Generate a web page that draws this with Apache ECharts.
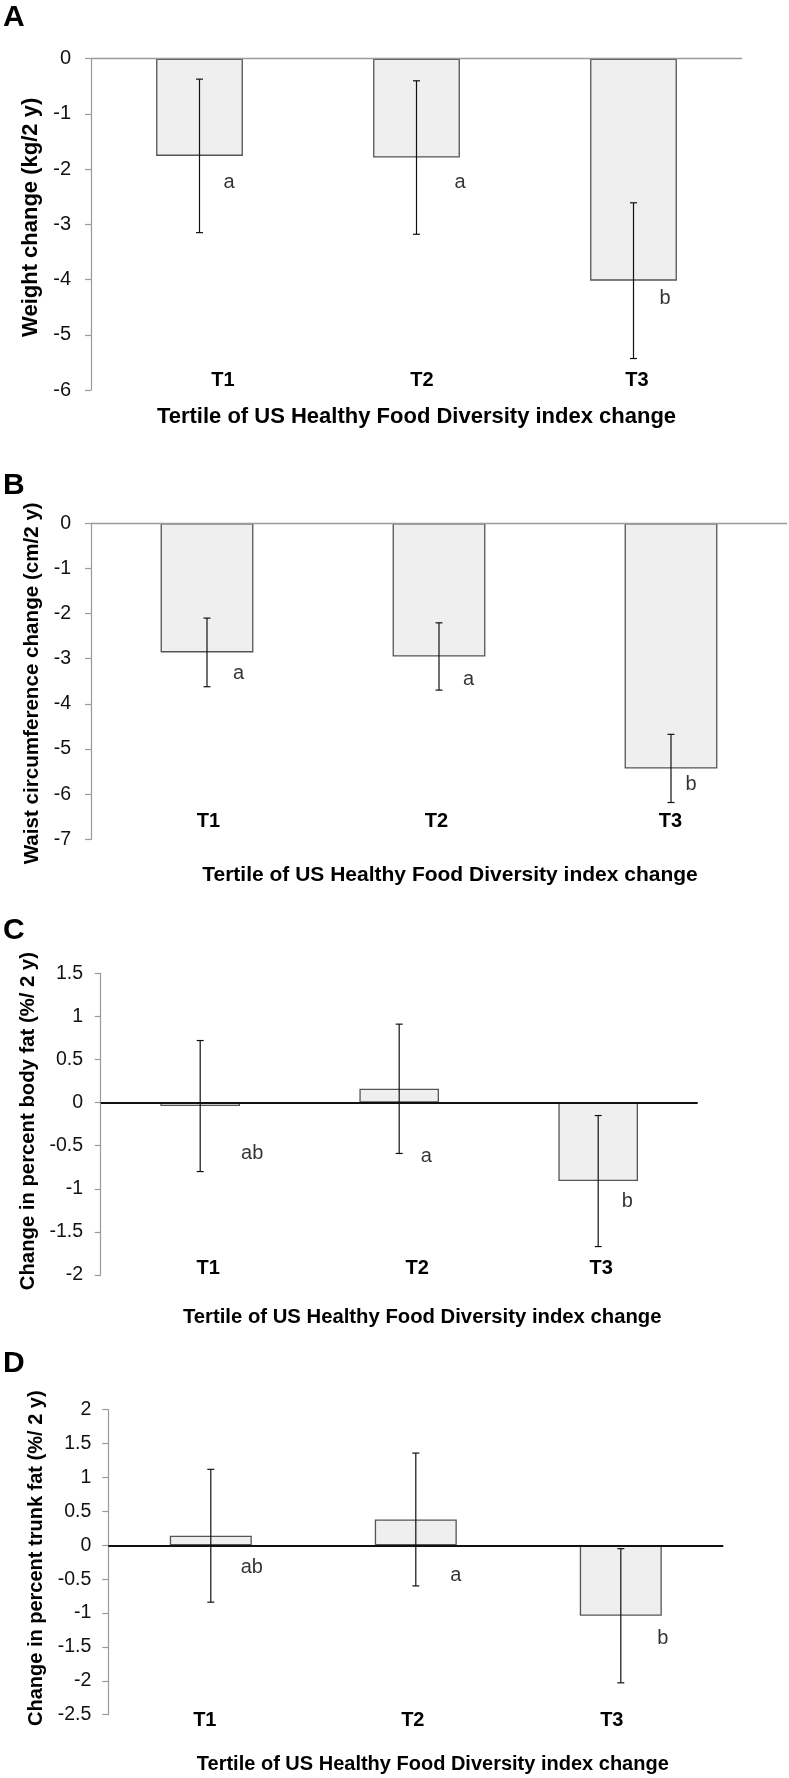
<!DOCTYPE html>
<html><head><meta charset="utf-8">
<script src="https://cdn.jsdelivr.net/npm/echarts@6/dist/echarts.min.js"></script>
<style>html,body{margin:0;padding:0;background:#fff}#c{width:789px;height:1778px}</style>
</head><body><div id="c"></div>
<script>
// ---------- data ----------
const categories = ['T1', 'T2', 'T3'];
const xTitle = 'Tertile of US Healthy Food Diversity index change';

// A: weight change (kg/2 y)
const weightMean = [-1.76, -1.79, -4.02];
const weightSE = [1.39, 1.39, 1.41];
const weightLetters = ['a', 'a', 'b'];
const weightLetterAt = [-2.25, -2.25, -4.34];
const weightAxis = [-6, 0, 1];

// B: waist circumference change (cm/2 y)
const waistMean = [-2.86, -2.95, -5.43];
const waistSE = [0.76, 0.745, 0.755];
const waistLetters = ['a', 'a', 'b'];
const waistLetterAt = [-3.32, -3.47, -5.79];
const waistAxis = [-7, 0, 1];

// C: change in percent body fat (%/ 2 y)
const bodyFatMean = [-0.04, 0.16, -0.91];
const bodyFatSE = [0.76, 0.75, 0.76];
const bodyFatLetters = ['ab', 'a', 'b'];
const bodyFatLetterAt = [-0.585, -0.63, -1.15];
const bodyFatAxis = [-2, 1.5, 0.5];

// D: change in percent trunk fat (%/ 2 y)
const trunkFatMean = [0.14, 0.38, -1.04];
const trunkFatSE = [0.98, 0.98, 0.99];
const trunkFatLetters = ['ab', 'a', 'b'];
const trunkFatLetterAt = [-0.335, -0.44, -1.38];
const trunkFatAxis = [-2.5, 2, 0.5];

// ---------- layout ----------
const FONT = '"Liberation Sans", Arial, Helvetica, sans-serif';
const panels = [
  { tag: 'A', yName: 'Weight change (kg/2 y)', mean: weightMean, se: weightSE, letters: weightLetters, letterAt: weightLetterAt, axis: weightAxis,
    grid: { left: 91, top: 58.7, width: 651, height: 331.3 }, tagTop: 3,
    tickFont: 20, tickMargin: 20, yNameSize: 22, yNameGap: 37, yShiftUp: 7,
    xNameSize: 22, xNameGap: 16, xShift: 0, catMargin: -20, catDx: [23.5, 5.5, 3.5], letterDx: [29.5, 43.5, 31.5],
    zeroColor: '#9a9a9a', zeroWidth: 1.3 },
  { tag: 'B', yName: 'Waist circumference change (cm/2 y)', mean: waistMean, se: waistSE, letters: waistLetters, letterAt: waistLetterAt, axis: waistAxis,
    grid: { left: 91, top: 523.3, width: 696, height: 316 }, tagTop: 471,
    tickFont: 19.5, tickMargin: 20, yNameSize: 20.6, yNameGap: 43, yShiftUp: -2,
    xNameSize: 21, xNameGap: 25, xShift: 11, catMargin: -28, catDx: [1.5, -2.5, -0.5], letterDx: [31.5, 29.5, 20],
    zeroColor: '#9a9a9a', zeroWidth: 1.3 },
  { tag: 'C', yName: 'Change in percent body fat (%/ 2 y)', mean: bodyFatMean, se: bodyFatSE, letters: bodyFatLetters, letterAt: bodyFatLetterAt, axis: bodyFatAxis,
    grid: { left: 100.7, top: 973.3, width: 597, height: 301.7 }, tagTop: 916,
    tickFont: 19.5, tickMargin: 17.7, yNameSize: 20.3, yNameGap: 53, yShiftUp: 3,
    xNameSize: 20.3, xNameGap: 32, xShift: 23, catMargin: -17, catDx: [8, 18, 3], letterDx: [52, 27, 29],
    zeroColor: '#111', zeroWidth: 2 },
  { tag: 'D', yName: 'Change in percent trunk fat (%/ 2 y)', mean: trunkFatMean, se: trunkFatSE, letters: trunkFatLetters, letterAt: trunkFatLetterAt, axis: trunkFatAxis,
    grid: { left: 108.3, top: 1409.7, width: 615, height: 305 }, tagTop: 1349,
    tickFont: 19.5, tickMargin: 17, yNameSize: 20, yNameGap: 44, yShiftUp: 4,
    xNameSize: 20, xNameGap: 40, xShift: 17, catMargin: -4, catDx: [-6, -3, -9], letterDx: [41, 40, 42],
    zeroColor: '#111', zeroWidth: 2 }
];

const grids = [], xAxes = [], yAxes = [], series = [], graphics = [];

panels.forEach((p, gi) => {
  grids.push(Object.assign({ containLabel: false }, p.grid));

  const rich = {};
  p.catDx.forEach((dx, i) => {
    rich['c' + i] = {
      fontFamily: FONT, fontSize: 20, fontWeight: 'bold', color: '#000',
      padding: dx >= 0 ? [0, 0, 0, 2 * dx] : [0, -2 * dx, 0, 0]
    };
  });

  xAxes.push({
    type: 'category', gridIndex: gi, data: categories, position: 'bottom',
    boundaryGap: true,
    axisLine: { show: false }, axisTick: { show: false }, splitLine: { show: false },
    axisLabel: {
      margin: p.catMargin, interval: 0,
      formatter: (v, i) => '{c' + i + '|' + v + '}', rich: rich
    },
    name: xTitle, nameLocation: 'middle', nameGap: p.xNameGap,
    nameTextStyle: {
      fontFamily: FONT, fontSize: p.xNameSize, fontWeight: 'bold', color: '#000',
      padding: p.xShift >= 0 ? [0, 0, 0, 2 * p.xShift] : [0, -2 * p.xShift, 0, 0]
    }
  });

  yAxes.push({
    type: 'value', gridIndex: gi, min: p.axis[0], max: p.axis[1], interval: p.axis[2],
    axisLine: { show: true, lineStyle: { color: '#9a9a9a', width: 1.2 } },
    axisTick: { show: true, length: 6, lineStyle: { color: '#9a9a9a', width: 1.2 } },
    splitLine: { show: false },
    axisLabel: { fontFamily: FONT, fontSize: p.tickFont, color: '#111', margin: p.tickMargin },
    name: p.yName, nameLocation: 'middle', nameRotate: 90, nameGap: p.yNameGap,
    nameTextStyle: {
      fontFamily: FONT, fontSize: p.yNameSize, fontWeight: 'bold', color: '#000',
      padding: p.yShiftUp >= 0 ? [0, 0, 0, 2 * p.yShiftUp] : [0, -2 * p.yShiftUp, 0, 0]
    }
  });

  series.push({
    type: 'bar', xAxisIndex: gi, yAxisIndex: gi, data: p.mean, barWidth: '40%',
    itemStyle: { color: '#efefef', borderColor: '#555', borderWidth: 1.3 },
    silent: true,
    markLine: {
      silent: true, symbol: ['none', 'none'], label: { show: false },
      lineStyle: { color: p.zeroColor, width: p.zeroWidth, type: 'solid' },
      data: [{ yAxis: 0 }]
    }
  });

  series.push({
    type: 'custom', xAxisIndex: gi, yAxisIndex: gi, silent: true,
    data: p.mean.map((m, i) => [i, m - p.se[i], m + p.se[i]]),
    encode: { x: 0, y: [1, 2] },
    renderItem: (params, api) => {
      const x = api.value(0);
      const lo = api.coord([x, api.value(1)]);
      const hi = api.coord([x, api.value(2)]);
      const hw = 3.5;
      const st = { stroke: '#111', lineWidth: 1.2 };
      return {
        type: 'group', children: [
          { type: 'line', shape: { x1: lo[0], y1: lo[1], x2: hi[0], y2: hi[1] }, style: st },
          { type: 'line', shape: { x1: lo[0] - hw, y1: lo[1], x2: lo[0] + hw, y2: lo[1] }, style: st },
          { type: 'line', shape: { x1: hi[0] - hw, y1: hi[1], x2: hi[0] + hw, y2: hi[1] }, style: st }
        ]
      };
    },
    z: 5
  });

  series.push({
    type: 'scatter', xAxisIndex: gi, yAxisIndex: gi, silent: true,
    symbol: 'circle', symbolSize: 1, itemStyle: { color: 'rgba(0,0,0,0)' },
    data: p.letterAt.map((v, i) => [i, v]),
    label: {
      show: true, position: 'inside',
      formatter: (d) => p.letters[d.dataIndex],
      fontFamily: FONT, fontSize: 20, color: '#000'
    },
    labelLayout: (params) => ({ dx: p.letterDx[params.dataIndex] }),
    z: 6
  });

  graphics.push({
    type: 'text', left: 3, top: p.tagTop,
    style: { text: p.tag, font: 'bold 30px ' + FONT, fill: '#000' }
  });
});

const chart = echarts.init(document.getElementById('c'), null, { renderer: 'canvas' });
chart.setOption({
  animation: false,
  backgroundColor: '#fff',
  grid: grids, xAxis: xAxes, yAxis: yAxes, series: series, graphic: graphics
});
</script>
</body></html>
